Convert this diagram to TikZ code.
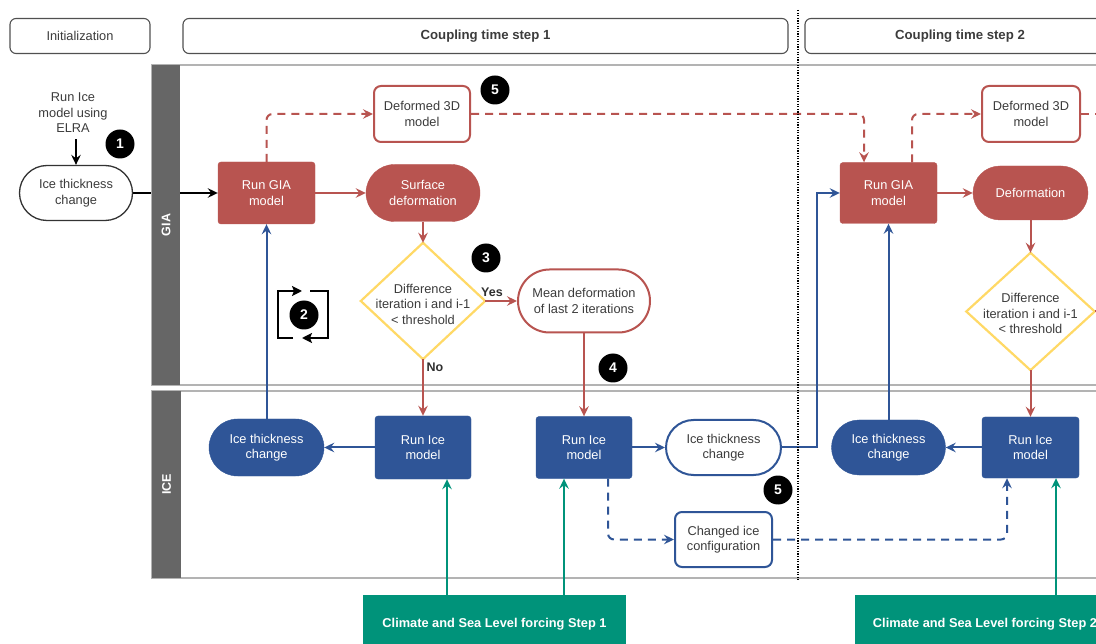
\documentclass[tikz,border=0pt]{standalone}
\usepackage{fontspec}
\setmainfont{Liberation Sans}
\usetikzlibrary{shapes.misc,arrows.meta,calc,backgrounds}
\definecolor{gired}{HTML}{B85450}
\definecolor{iceblue}{HTML}{2F5597}
\definecolor{forcegreen}{HTML}{00937A}
\definecolor{diayellow}{HTML}{FFD966}
\definecolor{bargray}{HTML}{666666}
\definecolor{lanegray}{HTML}{B3B3B3}
\definecolor{txtgray}{HTML}{3C3C3C}
\definecolor{hdrgray}{HTML}{505050}
\begin{document}
\begin{tikzpicture}[x=1pt,y=-1pt,
  every node/.style={font=\fontsize{12.8}{15.5}\selectfont, align=center, inner sep=0pt},
  tip/.style={-{Stealth[length=10pt,width=9.5pt,inset=3.5pt]}},
  conn/.style={line width=2pt, tip},
  redconn/.style={conn, draw=gired},
  blueconn/.style={conn, draw=iceblue},
  greenconn/.style={conn, draw=forcegreen},
  reddash/.style={redconn, dash pattern=on 8pt off 6pt, rounded corners=6pt},
  bluedash/.style={blueconn, dash pattern=on 8pt off 6pt, rounded corners=6pt},
  header/.style={draw=hdrgray, line width=1.1pt, rounded corners=6pt, minimum height=35pt, text=txtgray},
  redbox/.style={fill=gired, draw=gired, text=white, rounded corners=3pt},
  redstad/.style={rounded rectangle, fill=gired, draw=gired, text=white},
  redwhite/.style={draw=gired, line width=2pt, fill=white, text=txtgray, rounded corners=7pt},
  redwhitestad/.style={rounded rectangle, draw=gired, line width=2pt, fill=white, text=txtgray},
  bluebox/.style={fill=iceblue, draw=iceblue, text=white, rounded corners=3pt},
  bluestad/.style={rounded rectangle, fill=iceblue, draw=iceblue, text=white},
  bluewhitestad/.style={rounded rectangle, draw=iceblue, line width=2pt, fill=white, text=txtgray},
  bluewhite/.style={draw=iceblue, line width=2pt, fill=white, text=txtgray, rounded corners=7pt},
  greenbox/.style={fill=forcegreen, text=white, font=\fontsize{12.8}{15.5}\selectfont\bfseries},
  diamondtext/.style={text=txtgray},
  diamondline/.style={draw=diayellow, line width=2.2pt, fill=white, line join=miter},
  badge/.style={circle, fill=black, text=white, minimum size=29pt, font=\fontsize{14}{16}\selectfont\bfseries},
  lanelabel/.style={rotate=90, text=white, font=\fontsize{12.5}{14}\selectfont\bfseries},
  yesno/.style={text=txtgray!80!black, font=\fontsize{12.5}{14}\selectfont\bfseries}
]
\useasboundingbox (0,0) rectangle (1096,644);
\clip (0,0) rectangle (1096,644);

% headers
\node[header, minimum width=140pt] (init) at (80,36) {Initialization};
\node[header, minimum width=605pt, font=\fontsize{13.2}{15}\selectfont\bfseries] (cts1) at (485.5,36) {Coupling time step 1};
\node[header, minimum width=310pt, font=\fontsize{13.2}{15}\selectfont\bfseries] (cts2) at (960,36) {Coupling time step 2};

% initialization
\node[text=txtgray] (elra) at (73,113) {Run Ice\\model using\\ELRA};
\node[rounded rectangle, draw=black!80, line width=1.3pt, fill=white, text=txtgray, minimum width=113pt, minimum height=55pt] (icei) at (76,193) {Ice thickness\\change};
\node[badge] (b1) at (120,144) {1};

% GIA lane, step 1
\node[redbox, minimum width=97pt, minimum height=62pt] (gia1) at (266.5,193) {Run GIA\\model};
\node[redstad, minimum width=114pt, minimum height=57pt] (surf1) at (423,193) {Surface\\deformation};
\node[redwhite, minimum width=96pt, minimum height=56pt] (def1) at (422,114) {Deformed 3D\\model};
\node[badge] (b5a) at (495,90) {5};
\node[minimum width=124pt, minimum height=116pt] (dia1) at (423,301) {};
\node[badge] (b3) at (486,258) {3};
\node[redwhitestad, minimum width=132pt, minimum height=63pt] (mean) at (584,301) {Mean deformation\\of last 2 iterations};
\node[badge] (b4) at (613,368) {4};
\node[badge] (b2) at (304,315) {2};

% ICE lane, step 1
\node[bluebox, minimum width=96pt, minimum height=63pt] (ice1) at (423,447.5) {Run Ice\\model};
\node[bluestad, minimum width=115pt, minimum height=57pt] (ith1) at (266.5,447.5) {Ice thickness\\change};
\node[bluebox, minimum width=96pt, minimum height=62pt] (ice2) at (584,447.5) {Run Ice\\model};
\node[bluewhitestad, minimum width=115pt, minimum height=55pt] (ith2) at (723.5,447.5) {Ice thickness\\change};
\node[bluewhite, minimum width=97pt, minimum height=55pt] (chg) at (723.5,539.5) {Changed ice\\configuration};
\node[badge] (b5b) at (778,490) {5};

% step 2
\node[redbox, minimum width=97pt, minimum height=61pt] (gia2) at (888.5,193) {Run GIA\\model};
\node[redstad, minimum width=115pt, minimum height=54pt] (defm) at (1030.5,193) {Deformation};
\node[redwhite, minimum width=98pt, minimum height=56pt] (def2) at (1031,114) {Deformed 3D\\model};
\node[minimum width=128pt, minimum height=117pt] (dia2) at (1030.5,311.5) {};
\node[bluebox, minimum width=97pt, minimum height=61pt] (ice3) at (1030.5,447.5) {Run Ice\\model};
\node[bluestad, minimum width=114pt, minimum height=55pt] (ith3) at (888.5,447.5) {Ice thickness\\change};

% forcing
\node[greenbox, minimum width=263pt, minimum height=58pt] (clim1) at (494.5,624) {Climate and Sea Level forcing Step 1};
\node[greenbox, minimum width=260pt, minimum height=58pt] (clim2) at (985,624) {Climate and Sea Level forcing Step 2};

% diamonds
\draw[diamondline] (dia1.north) -- (dia1.east) -- (dia1.south) -- (dia1.west) -- cycle;
\node[diamondtext] (dia1t) at ([yshift=-3pt]dia1.center) {Difference\\iteration i and i-1\\< threshold};
\draw[diamondline] (dia2.north) -- (dia2.east) -- (dia2.south) -- (dia2.west) -- cycle;
\node[diamondtext] (dia2t) at ([yshift=-2pt]dia2.center) {Difference\\iteration i and i-1\\< threshold};

% labels
\node[yesno] (yes) at (492,292) {Yes};
\node[yesno] (no) at (435,367) {No};

% helper coordinates
\coordinate (gx1) at (447,0);
\coordinate (gx2) at (564,0);
\coordinate (gx3) at (1056,0);
\coordinate (c817) at (817,193);
\coordinate (redend) at (1100,114);
\coordinate (yesend) at (1100,311.5);

% background: lanes
\begin{pgfonlayer}{background}
\fill[white] (0,0) rectangle (1096,644);
\draw[conn, draw=black] (icei.east) -- (gia1.west);
\draw[draw=lanegray, line width=1.6pt] (152,65) rectangle (1110,385);
\draw[draw=lanegray, line width=1.6pt] (152,391) rectangle (1110,578);
\fill[bargray] (152,65) rectangle (180,385);
\fill[bargray] (152,391) rectangle (181,578);
\end{pgfonlayer}
\node[lanelabel] (gial) at (166,225) {GIA};
\node[lanelabel] (icel) at (166.5,484.5) {ICE};

% connectors
\draw[conn, draw=black] ([yshift=-6pt]elra.south -| icei.north) -- (icei.north);
\draw[redconn] (gia1.east) -- (surf1.west);
\draw[reddash] (gia1.north) |- (def1.west);
\draw[reddash] (def1.east) -| ([xshift=-24.5pt]gia2.north);
\draw[redconn] (surf1.south) -- (dia1.north);
\draw[redconn] (dia1.east) -- (mean.west);
\draw[redconn] (dia1.south) -- (ice1.north);
\draw[redconn] (mean.south) -- (ice2.north);
\draw[blueconn] (ice1.west) -- (ith1.east);
\draw[blueconn] (ith1.north) -- (gia1.south);
\draw[greenconn] (clim1.north -| gx1) -- (ice1.south -| gx1);
\draw[greenconn] (clim1.north -| gx2) -- (ice2.south -| gx2);
\draw[blueconn] (ice2.east) -- (ith2.west);
\draw[blueconn] (ith2.east) -| (c817) -- (gia2.west);
\draw[bluedash] ([xshift=24pt]ice2.south) |- (chg.west);
\draw[bluedash] (chg.east) -| ([xshift=-23.5pt]ice3.south);
\draw[greenconn] (clim2.north -| gx3) -- (ice3.south -| gx3);
\draw[blueconn] (ice3.west) -- (ith3.east);
\draw[blueconn] (ith3.north) -- (gia2.south);
\draw[redconn] (gia2.east) -- (defm.west);
\draw[reddash] ([xshift=23.5pt]gia2.north) |- (def2.west);
\draw[draw=gired, line width=2pt, dash pattern=on 8pt off 6pt] (def2.east) -- (redend);
\draw[redconn] (defm.south) -- (dia2.north);
\draw[redconn] (dia2.south) -- (ice3.north);
\draw[draw=gired, line width=2pt] (dia2.east) -- (yesend);

% iteration loop symbol
\draw[line width=1.8pt, -{Stealth[length=10pt,width=10pt,inset=2pt]}] (293,338) -- (278,338) -- (278,291) -- (302,291);
\draw[line width=1.8pt, -{Stealth[length=10pt,width=10pt,inset=2pt]}] (310,291) -- (328,291) -- (328,338) -- (302,338);

% time step separator
\draw[line width=1.8pt, dash pattern=on 1.3pt off 1.3pt] (798,10) -- (798,580);
\end{tikzpicture}
\end{document}
